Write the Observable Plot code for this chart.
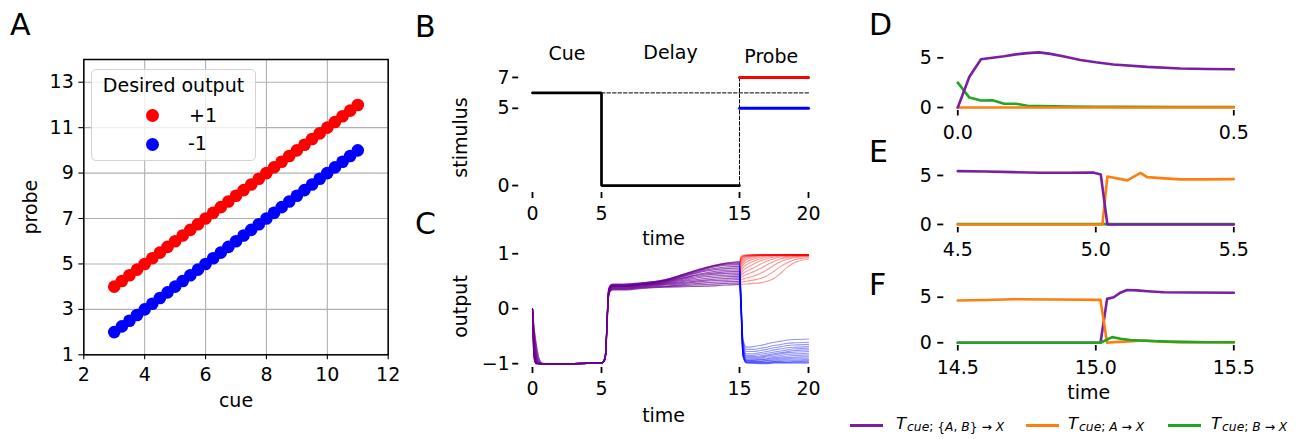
<!DOCTYPE html>
<html>
<head>
<meta charset="utf-8">
<script src="https://cdn.jsdelivr.net/npm/d3@7"></script>
<script src="https://cdn.jsdelivr.net/npm/@observablehq/plot@0.6"></script>
<style>
  body { margin: 0; background: #fff; }
  #fig { position: relative; width: 1307px; height: 439px; overflow: hidden; background: #fff;
         font-family: "DejaVu Sans", sans-serif; color: #000; }
  .abs { position: absolute; white-space: nowrap; }
  .plab { position: absolute; font-size: 30px; line-height: 30px; }
  .lg { position: absolute; font-size: 16.5px; line-height: 20px; white-space: nowrap; }
  .lg i { font-style: italic; }
  .lg .sub { font-size: 12.3px; position: relative; top: 1.5px; margin-left: 1px; }
  .lgline { position: absolute; height: 3px; }
</style>
</head>
<body>
<div id="fig"></div>
<script>
// ---------------- DATA ----------------
// Panel A: task stimuli
const cueValues  = [3,3.25,3.5,3.75,4,4.25,4.5,4.75,5,5.25,5.5,5.75,6,6.25,6.5,6.75,7,7.25,7.5,7.75,8,8.25,8.5,8.75,9,9.25,9.5,9.75,10,10.25,10.5,10.75,11];
const probePlus  = [4,4.25,4.5,4.75,5,5.25,5.5,5.75,6,6.25,6.5,6.75,7,7.25,7.5,7.75,8,8.25,8.5,8.75,9,9.25,9.5,9.75,10,10.25,10.5,10.75,11,11.25,11.5,11.75,12];
const probeMinus = [2,2.25,2.5,2.75,3,3.25,3.5,3.75,4,4.25,4.5,4.75,5,5.25,5.5,5.75,6,6.25,6.5,6.75,7,7.25,7.5,7.75,8,8.25,8.5,8.75,9,9.25,9.5,9.75,10];
const aCueTicks   = [2,4,6,8,10,12];
const aProbeTicks = [1,3,5,7,9,11,13];
const legendTitle = "Desired output";
const legendLabels = ["+1", "-1"];

// Panel B: stimulus time course
const bTimeTicks = [0,5,15,20];
const bStimTicks = [0,5,7];
const cueStimT = [0,5,5,15];
const cueStimV = [6,6,0,0];
const refT = [5,20];          const refV = [6,6];
const probeMarkT = [15,15];   const probeMarkV = [0,7];
const probeT = [15,20];
const probeHighV = [7,7];
const probeLowV  = [5,5];
const phaseNames = ["Cue","Delay","Probe"];
const phaseT = [2.5,10,17.3];
const phaseV = [8.5,8.6,8.35];

// Panel C: network output, one row per cue (pre-probe shared by both probe types)
const cTimeTicks = [0,5,15,20];
const cOutTicks = [-1,0,1];
const preT = [0,0.1,0.25,0.45,0.7,1.0,5.0,5.2,5.3,5.4,5.5,5.6,5.8,6.5,8,9.5,11,12.5,14,15];
const preRows = [
  [0,-0.30,-0.60,-0.88,-0.99,-1.00,-0.99,-0.96,-0.87,-0.36,0.18,0.30,0.34,0.34,0.37,0.39,0.40,0.41,0.43,0.44],
  [0,-0.35,-0.68,-0.93,-1.00,-1.00,-0.99,-0.96,-0.86,-0.34,0.19,0.31,0.35,0.35,0.38,0.40,0.42,0.44,0.46,0.47],
  [0,-0.40,-0.74,-0.96,-1.00,-1.00,-0.99,-0.95,-0.85,-0.32,0.20,0.32,0.36,0.36,0.39,0.41,0.44,0.47,0.49,0.50],
  [0,-0.45,-0.80,-0.98,-1.00,-1.00,-0.99,-0.95,-0.85,-0.31,0.21,0.33,0.37,0.37,0.40,0.43,0.46,0.50,0.52,0.53],
  [0,-0.50,-0.85,-0.99,-1.00,-1.00,-0.99,-0.95,-0.84,-0.30,0.22,0.34,0.38,0.38,0.41,0.44,0.48,0.52,0.55,0.56],
  [0,-0.55,-0.89,-1.00,-1.00,-1.00,-0.99,-0.95,-0.84,-0.29,0.23,0.35,0.39,0.39,0.42,0.45,0.50,0.55,0.58,0.59],
  [0,-0.60,-0.92,-1.00,-1.00,-1.00,-0.99,-0.95,-0.83,-0.28,0.24,0.36,0.40,0.40,0.43,0.46,0.52,0.58,0.61,0.62],
  [0,-0.64,-0.94,-1.00,-1.00,-1.00,-0.99,-0.94,-0.83,-0.27,0.25,0.37,0.40,0.40,0.43,0.47,0.54,0.61,0.64,0.65],
  [0,-0.68,-0.96,-1.00,-1.00,-1.00,-0.99,-0.94,-0.82,-0.26,0.26,0.37,0.41,0.41,0.44,0.48,0.56,0.63,0.67,0.68],
  [0,-0.71,-0.97,-1.00,-1.00,-1.00,-0.99,-0.94,-0.82,-0.25,0.27,0.38,0.41,0.41,0.44,0.49,0.57,0.65,0.70,0.71],
  [0,-0.74,-0.98,-1.00,-1.00,-1.00,-0.99,-0.94,-0.81,-0.24,0.28,0.38,0.42,0.42,0.45,0.50,0.59,0.68,0.73,0.74],
  [0,-0.77,-0.99,-1.00,-1.00,-1.00,-0.99,-0.93,-0.81,-0.23,0.29,0.39,0.42,0.42,0.45,0.50,0.60,0.70,0.76,0.77],
  [0,-0.80,-0.99,-1.00,-1.00,-1.00,-0.99,-0.93,-0.80,-0.22,0.30,0.39,0.43,0.43,0.46,0.51,0.61,0.72,0.79,0.80],
  [0,-0.83,-1.00,-1.00,-1.00,-1.00,-0.99,-0.93,-0.80,-0.21,0.31,0.40,0.43,0.43,0.46,0.51,0.62,0.73,0.81,0.82],
  [0,-0.86,-1.00,-1.00,-1.00,-1.00,-0.99,-0.93,-0.79,-0.20,0.32,0.40,0.44,0.44,0.47,0.52,0.63,0.74,0.82,0.84],
  [0,-0.90,-1.00,-1.00,-1.00,-1.00,-0.99,-0.92,-0.79,-0.19,0.33,0.41,0.45,0.45,0.47,0.52,0.63,0.75,0.83,0.86]
];
const postT = [15,15.1,15.25,15.5,16,16.5,17,17.5,18,18.5,19,20];
const postPlusRows = [
  [0.44,0.44,0.45,0.45,0.46,0.47,0.50,0.55,0.65,0.76,0.84,0.90],
  [0.47,0.48,0.49,0.50,0.52,0.55,0.60,0.68,0.77,0.84,0.89,0.93],
  [0.50,0.52,0.54,0.56,0.59,0.64,0.71,0.79,0.86,0.90,0.93,0.95],
  [0.53,0.56,0.59,0.62,0.67,0.73,0.80,0.86,0.91,0.93,0.95,0.96],
  [0.56,0.60,0.64,0.68,0.74,0.81,0.87,0.91,0.94,0.95,0.96,0.97],
  [0.59,0.64,0.69,0.74,0.81,0.87,0.91,0.94,0.96,0.96,0.97,0.97],
  [0.62,0.68,0.74,0.80,0.86,0.91,0.94,0.96,0.97,0.97,0.97,0.98],
  [0.65,0.72,0.79,0.85,0.90,0.94,0.96,0.97,0.97,0.98,0.98,0.98],
  [0.68,0.76,0.83,0.89,0.93,0.96,0.97,0.97,0.98,0.98,0.98,0.98],
  [0.71,0.80,0.87,0.92,0.95,0.97,0.97,0.98,0.98,0.98,0.98,0.98],
  [0.74,0.84,0.90,0.94,0.96,0.97,0.98,0.98,0.98,0.98,0.98,0.98],
  [0.77,0.87,0.92,0.95,0.97,0.98,0.98,0.98,0.98,0.98,0.98,0.98],
  [0.80,0.89,0.94,0.96,0.97,0.98,0.98,0.98,0.98,0.98,0.98,0.98],
  [0.82,0.91,0.95,0.97,0.98,0.98,0.98,0.98,0.98,0.98,0.98,0.98],
  [0.84,0.93,0.96,0.97,0.98,0.98,0.98,0.98,0.98,0.98,0.98,0.98],
  [0.86,0.94,0.97,0.98,0.98,0.98,0.98,0.98,0.98,0.98,0.98,0.98]
];
const postMinusRows = [
  [0.44,0.00,-0.87,-0.99,-0.99,-1.00,-1.00,-0.99,-0.99,-0.99,-0.99,-0.99],
  [0.47,0.02,-0.86,-0.98,-0.99,-0.99,-0.99,-0.98,-0.98,-0.98,-0.98,-0.98],
  [0.50,0.04,-0.85,-0.98,-0.98,-0.98,-0.98,-0.97,-0.97,-0.97,-0.96,-0.96],
  [0.53,0.06,-0.84,-0.97,-0.97,-0.97,-0.97,-0.96,-0.96,-0.95,-0.95,-0.94],
  [0.56,0.08,-0.82,-0.96,-0.96,-0.96,-0.95,-0.95,-0.94,-0.93,-0.93,-0.92],
  [0.59,0.10,-0.80,-0.95,-0.95,-0.95,-0.94,-0.93,-0.92,-0.91,-0.90,-0.90],
  [0.62,0.12,-0.78,-0.94,-0.94,-0.93,-0.92,-0.91,-0.90,-0.89,-0.88,-0.87],
  [0.65,0.14,-0.76,-0.93,-0.93,-0.92,-0.91,-0.89,-0.88,-0.86,-0.85,-0.84],
  [0.68,0.16,-0.74,-0.91,-0.91,-0.90,-0.88,-0.87,-0.85,-0.83,-0.82,-0.81],
  [0.71,0.18,-0.72,-0.89,-0.89,-0.88,-0.86,-0.84,-0.82,-0.80,-0.79,-0.78],
  [0.74,0.20,-0.70,-0.87,-0.87,-0.86,-0.84,-0.82,-0.80,-0.78,-0.76,-0.75],
  [0.77,0.22,-0.67,-0.85,-0.85,-0.83,-0.81,-0.79,-0.77,-0.75,-0.73,-0.72],
  [0.80,0.24,-0.64,-0.82,-0.82,-0.80,-0.78,-0.75,-0.73,-0.71,-0.70,-0.69],
  [0.82,0.26,-0.61,-0.78,-0.78,-0.76,-0.74,-0.71,-0.69,-0.67,-0.66,-0.65],
  [0.84,0.28,-0.58,-0.74,-0.74,-0.72,-0.70,-0.67,-0.65,-0.63,-0.62,-0.61],
  [0.86,0.30,-0.55,-0.70,-0.69,-0.67,-0.64,-0.61,-0.59,-0.57,-0.56,-0.55]
];

// Panels D, E, F: transfer entropy around events
const dTicks = [0,0.5];
const eTicks = [4.5,5.0,5.5];
const fTicks = [14.5,15.0,15.5];
const teTicks = [0,5];
const dPurpleT = [0,0.021,0.042,0.063,0.084,0.105,0.126,0.147,0.168,0.195,0.222,0.25,0.282,0.343,0.403,0.45,0.5];
const dPurpleV = [0,3.1,4.85,5.0,5.15,5.35,5.47,5.55,5.4,5.1,4.78,4.55,4.33,4.09,3.93,3.87,3.85];
const dOrangeT = [0,0.5];
const dOrangeV = [0,0];
const dGreenT  = [0,0.021,0.042,0.063,0.084,0.105,0.126,0.15,0.2,0.25,0.3,0.4,0.5];
const dGreenV  = [2.5,1.0,0.7,0.72,0.38,0.38,0.18,0.15,0.1,0.08,0.06,0.05,0.05];
const ePurpleT = [4.5,4.6,4.7,4.8,4.9,4.99,5.018,5.042,5.5];
const ePurpleV = [5.44,5.4,5.34,5.28,5.28,5.3,5.1,0,0];
const eOrangeT = [4.5,5.024,5.042,5.114,5.162,5.186,5.25,5.306,5.4,5.5];
const eOrangeV = [0,0,4.9,4.5,5.27,4.83,4.7,4.6,4.6,4.63];
const eGreenT  = [4.5,5.5];
const eGreenV  = [0.03,0.03];
const fPurpleT = [14.5,15.017,15.041,15.065,15.089,15.113,15.15,15.186,15.246,15.35,15.5];
const fPurpleV = [0,0,4.82,5.0,5.5,5.8,5.75,5.66,5.55,5.52,5.5];
const fOrangeT = [14.5,14.6,14.703,14.85,15.017,15.041,15.065,15.12,15.174,15.24,15.307,15.4,15.5];
const fOrangeV = [4.64,4.7,4.78,4.75,4.71,0,0.07,0.15,0.25,0.12,0.07,0.05,0.04];
const fGreenT  = [14.5,15.017,15.059,15.09,15.125,15.2,15.3,15.4,15.5];
const fGreenV  = [0,0,0.62,0.45,0.3,0.2,0.1,0.06,0.05];
const teNames = ["{A, B}", "A", "B"];

// ---------------- STYLE ----------------
const PURPLE = "#7b1fa2", ORANGE = "#ff7f0e", GREEN = "#22a622";
const fig = document.getElementById("fig");
const style = {fontFamily: "DejaVu Sans", fontSize: "19px", color: "#000", background: "transparent", overflow: "visible"};
const minusFmt = d => (d < 0 ? "\u2212" + Math.abs(d) : String(d));
const fix1 = d => d.toFixed(1);
const pts = (xs, ys, extra = {}) => xs.map((x, i) => ({x, y: ys[i], ...extra}));
const label = (txt, opts) => Plot.text([txt], {text: d => d, lineAnchor: "middle", textAnchor: "middle", ...opts});

function place(node, left, top) {
  node.style.position = "absolute";
  node.style.left = left + "px";
  node.style.top = top + "px";
  fig.appendChild(node);
  return node;
}
function html(str) { const d = document.createElement("div"); d.innerHTML = str; return d.firstElementChild; }

// ---------------- PANEL A ----------------
place(Plot.plot({
  width: 420, height: 439,
  marginLeft: 83.3, marginRight: 32.3, marginTop: 59, marginBottom: 84.7,
  x: {domain: [2, 12]}, y: {domain: [1, 14]}, style,
  marks: [
    Plot.gridX(aCueTicks, {stroke: "#b0b0b0", strokeOpacity: 1, strokeWidth: 1.1}),
    Plot.gridY(aProbeTicks, {stroke: "#b0b0b0", strokeOpacity: 1, strokeWidth: 1.1}),
    Plot.dot(pts(cueValues, probePlus), {x: "x", y: "y", r: 6.3, fill: "#ff0000"}),
    Plot.dot(pts(cueValues, probeMinus), {x: "x", y: "y", r: 6.3, fill: "#0000ff"}),
    Plot.frame({stroke: "#000", strokeWidth: 1.5}),
    Plot.axisX(aCueTicks, {tickSize: 5, tickPadding: 8, label: null, strokeWidth: 1.1}),
    Plot.axisY(aProbeTicks, {tickSize: 5, tickPadding: 5, label: null, strokeWidth: 1.1}),
    label("cue", {frameAnchor: "bottom", dy: 46}),
    label("probe", {frameAnchor: "left", dx: -53, rotate: -90})
  ]
}), 0, 0);

// legend of panel A
place(html(`<div style="width:165px;height:92px;box-sizing:border-box;border:1.3px solid #d3d3d3;border-radius:5px;background:rgba(255,255,255,0.8)"></div>`), 91, 69);
place(html(`<div class="abs" style="width:165px;text-align:center;font-size:19px;line-height:24px">${legendTitle}</div>`), 91, 73);
place(html(`<div style="width:13px;height:13px;border-radius:50%;background:#ff0000"></div>`), 145.8, 109.2);
place(html(`<div style="width:13px;height:13px;border-radius:50%;background:#0000ff"></div>`), 145.8, 138.2);
place(html(`<div class="abs" style="font-size:19px;line-height:24px">${legendLabels[0]}</div>`), 189, 102.7);
place(html(`<div class="abs" style="font-size:19px;line-height:24px">${legendLabels[1]}</div>`), 188, 131.4);

// ---------------- PANEL B ----------------
place(Plot.plot({
  width: 420, height: 250,
  marginLeft: 108.2, marginRight: 22, marginTop: 70, marginBottom: 58,
  x: {domain: [-1, 20]}, y: {domain: [-0.45, 7.45]}, style,
  marks: [
    Plot.line(pts(refT, refV), {x: "x", y: "y", stroke: "#000", strokeWidth: 1, strokeDasharray: "3.5,2"}),
    Plot.line(pts(probeMarkT, probeMarkV), {x: "x", y: "y", stroke: "#000", strokeWidth: 1, strokeDasharray: "3.5,2"}),
    Plot.line(pts(cueStimT, cueStimV), {x: "x", y: "y", stroke: "#000", strokeWidth: 2.7, strokeLinejoin: "miter"}),
    Plot.line(pts(probeT, probeHighV), {x: "x", y: "y", stroke: "#ff0000", strokeWidth: 3}),
    Plot.line(pts(probeT, probeLowV), {x: "x", y: "y", stroke: "#0000ff", strokeWidth: 3}),
    Plot.text(pts(phaseT, phaseV).map((d, i) => ({...d, name: phaseNames[i]})), {x: "x", y: "y", text: "name"}),
    Plot.axisX(bTimeTicks, {tickSize: 6, tickPadding: 8, label: null, strokeWidth: 1.8}),
    Plot.axisY(bStimTicks, {tickSize: 6, tickPadding: 3, label: null, strokeWidth: 1.8}),
    label("time", {frameAnchor: "bottom", dy: 46}),
    label("stimulus", {frameAnchor: "left", dx: -58, dy: 6, rotate: -90})
  ]
}), 410, 0);

// ---------------- PANEL C ----------------
// traces interleaved (red k, blue k, ...) so the shared delay period mixes to purple
const cTraces = [];
preRows.forEach((row, k) => {
  [["#ff0000", postPlusRows[k]], ["#0000ff", postMinusRows[k]]].forEach(([col, post]) => {
    const id = col + k;
    row.forEach((v, i) => cTraces.push({t: preT[i], v, id, col}));
    post.forEach((v, i) => { if (i > 0) cTraces.push({t: postT[i], v, id, col}); });
  });
});
place(Plot.plot({
  width: 420, height: 211,
  marginLeft: 108.2, marginRight: 22, marginTop: 17, marginBottom: 72,
  x: {domain: [-1, 20]}, y: {domain: [-1.07, 1.15]}, color: {type: "identity"}, style,
  marks: [
    Plot.line(cTraces, {x: "t", y: "v", z: "id", stroke: "col", strokeOpacity: 0.42, strokeWidth: 1.1, curve: "monotone-x"}),
    Plot.axisX(cTimeTicks, {tickSize: 6, tickPadding: 8, label: null, strokeWidth: 1.8}),
    Plot.axisY(cOutTicks, {tickSize: 6, tickPadding: 3, label: null, strokeWidth: 1.8, tickFormat: minusFmt}),
    label("time", {frameAnchor: "bottom", dy: 48}),
    label("output", {frameAnchor: "left", dx: -58, rotate: -90})
  ]
}), 410, 228);

// ---------------- PANELS D, E, F ----------------
function tePanel({top, height, marginTop, marginBottom, xDomain, ticks, series, timeLabel}) {
  const marks = series.map(([xs, ys, color]) =>
    Plot.line(pts(xs, ys), {x: "x", y: "y", stroke: color, strokeWidth: 2.6}));
  marks.push(
    Plot.axisX(ticks, {tickSize: 5.5, tickPadding: 9.5, label: null, strokeWidth: 1.8, tickFormat: fix1}),
    Plot.axisY(teTicks, {tickSize: 6, tickPadding: 6, label: null, strokeWidth: 1.8})
  );
  if (timeLabel) marks.push(label("time", {frameAnchor: "bottom", dy: 47}));
  place(Plot.plot({
    width: 427, height, marginLeft: 63.3, marginRight: 73.7, marginTop, marginBottom,
    x: {domain: xDomain}, y: {domain: [-0.3, 6.2]}, style, marks
  }), 880, top);
}
tePanel({top: 0, height: 145, marginTop: 45.4, marginBottom: 35, xDomain: [-0.02536, 0.5], ticks: dTicks,
  series: [[dGreenT, dGreenV, GREEN], [dOrangeT, dOrangeV, ORANGE], [dPurpleT, dPurpleV, PURPLE]]});
tePanel({top: 145, height: 118, marginTop: 18.2, marginBottom: 36.1, xDomain: [4.4493, 5.5], ticks: eTicks,
  series: [[eGreenT, eGreenV, GREEN], [eOrangeT, eOrangeV, ORANGE], [ePurpleT, ePurpleV, PURPLE]]});
tePanel({top: 263, height: 150, marginTop: 22.8, marginBottom: 68, xDomain: [14.4493, 15.5], ticks: fTicks,
  series: [[fPurpleT, fPurpleV, PURPLE], [fOrangeT, fOrangeV, ORANGE], [fGreenT, fGreenV, GREEN]], timeLabel: true});

// ---------------- bottom legend ----------------
const teColors = [PURPLE, ORANGE, GREEN];
const lineLeft = [850, 1026, 1168];
const textLeft = [896, 1068, 1211];
teNames.forEach((nm, i) => {
  place(html(`<div class="lgline" style="width:33px;background:${teColors[i]}"></div>`), lineLeft[i], 424);
  const sub = nm.replace(/([A-Z])/g, "<i>$1</i>");
  place(html(`<div class="lg"><i>T</i><span class="sub"><i>cue</i>; ${sub} \u2192 <i>X</i></span></div>`), textLeft[i], 414.3);
});

// ---------------- panel letters ----------------
const panelLetters = ["A","B","C","D","E","F"];
const letterPos = [[10,9.5],[415,11.5],[415,208.5],[869,9.5],[869,136.5],[869,269.5]];
panelLetters.forEach((L, i) => place(html(`<div class="plab">${L}</div>`), letterPos[i][0], letterPos[i][1]));
</script>
</body>
</html>
